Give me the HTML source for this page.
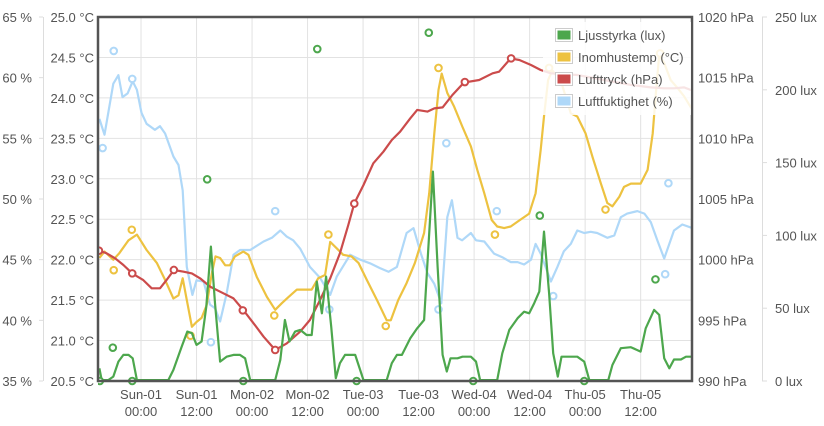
<!DOCTYPE html>
<html><head><meta charset="utf-8"><style>
html,body{margin:0;padding:0;background:#fff;width:824px;height:426px;overflow:hidden}
svg{display:block;font-family:"Liberation Sans",sans-serif}
</style></head><body>
<svg id="chart" width="824" height="426" xmlns="http://www.w3.org/2000/svg"></svg>
<script>
// ---- data (time in hours since Sun-01 00:00) ----
const xTickHours=[0,12,24,36,48,60,72,84,96,108];
const xTickDays=["Sun-01","Sun-01","Mon-02","Mon-02","Tue-03","Tue-03","Wed-04","Wed-04","Thu-05","Thu-05"];
const xTickTimes=["00:00","12:00","00:00","12:00","00:00","12:00","00:00","12:00","00:00","12:00"];
const humTicks=[35,40,45,50,55,60,65];
const tempTicks=[20.5,21.0,21.5,22.0,22.5,23.0,23.5,24.0,24.5,25.0];
const hpaTicks=[990,995,1000,1005,1010,1015,1020];
const luxTicks=[0,50,100,150,200,250];

const humT=[-9,-7.9,-6,-4.9,-4,-2.9,-1.8,-0.9,0.1,1.2,3,4.1,5.2,7,8.1,9,9.9,11.1,12,13.5,14.9,16,17.1,18.5,20,21.4,23.6,26.5,28.3,30.1,31.5,32.9,34.4,36.5,38.7,40.9,42.3,45.2,47.4,49.5,51.7,53.5,55.3,57.4,58.9,60.5,61.9,63.4,64.9,66.2,67.2,68.4,69.4,71.3,72.4,74.2,76.3,78.1,79.9,81.4,82.8,84.3,85.3,86.4,88.6,90,91.4,92.9,94.3,95.8,97.2,98.6,100.8,102.3,103.7,105.1,107.3,108.8,110.2,111.6,113.1,115.2,117,119.2];
const humV=[56.6,55.3,59.5,60.2,58.4,58.7,59.7,59.0,57.1,56.2,55.7,56.0,55.4,53.5,52.8,50.7,44.4,42.1,43.3,43.2,41.3,41.0,39.9,42.2,45.4,45.8,45.8,46.5,46.8,47.4,46.9,46.6,45.9,44.4,43.5,42.1,43.6,45.4,45.0,44.7,44.3,44.0,44.4,47.2,47.6,45.5,43.9,43.0,41.4,48.5,49.9,46.8,46.6,47.2,46.6,46.5,45.5,45.2,44.8,44.8,44.6,45.0,46.3,45.5,43.2,44.4,45.7,46.3,47.4,47.2,47.3,47.2,46.8,47.0,48.5,48.8,49.0,48.8,48.1,46.6,45.1,47.4,47.9,47.6];
const humMarkT=[-8.3,-5.9,-1.9,15.1,29.0,40.7,64.3,66.0,76.9,89.1,114.0,113.3];
const humMarkV=[54.2,62.2,59.9,38.2,49.0,40.9,40.9,54.6,49.0,42.0,51.3,43.8];

const tempT=[-9,-7.9,-6,-4.7,-2.7,-0.9,1.2,3.4,5.2,7,8.1,9,9.9,11,12,13.1,14.2,15.3,16.1,17.1,18.2,19.2,20.3,22.1,23.2,25,27.2,29,30.4,31.9,33.7,35.5,36.9,38.3,39.8,40.9,42.3,43.7,45.5,47,48.8,51,53.1,54,55.6,57.4,59.2,61.2,62.3,63.4,64.3,65,66.2,67.7,69.5,71.3,72.7,74.2,75.8,77,78.5,79.9,81.4,83.9,85.3,86.4,87.1,88,88.9,90.8,92.9,94.3,96.1,97.6,99.4,100.8,101.9,103.4,104.4,105.9,108,109.5,110.6,111.3,112,113.1,114.5,116,117.4,119.2];
const tempV=[22.02,22.10,22.00,22.08,22.24,22.31,22.12,21.96,21.75,21.52,21.56,21.77,21.50,21.17,21.23,21.28,21.44,21.83,22.04,22.02,21.93,21.93,22.04,22.10,22.06,21.79,21.54,21.38,21.46,21.54,21.63,21.63,21.63,21.77,21.81,22.22,22.14,22.06,22.04,21.96,21.75,21.50,21.25,21.25,21.50,21.71,21.96,22.33,22.82,23.56,24.10,24.30,24.06,23.89,23.64,23.40,23.11,22.82,22.49,22.41,22.39,22.41,22.47,22.57,22.82,23.36,23.77,24.22,24.34,24.20,23.81,23.77,23.56,23.27,22.94,22.70,22.66,22.78,22.90,22.94,22.94,23.11,23.56,24.06,24.53,24.43,24.22,24.12,24.02,23.85];
const tempMarkT=[-5.9,-2.0,10.7,28.8,40.5,52.9,64.3,76.5,88.2,100.4,112.2];
const tempMarkV=[21.87,22.37,21.06,21.31,22.31,21.18,24.37,22.31,24.37,22.62,24.55];

const hpaT=[-9,-7.4,-5.6,-3.8,-1.9,0.5,2.3,4.1,5.5,7.1,9.2,11,12.8,14.9,17.8,20,22.1,24.6,26.5,29,31.5,34.4,36.5,38.7,40.9,43,44.8,46.1,48.1,50.2,52.4,54.2,56,58.2,59.7,61.9,63.4,65.2,67.3,69.8,73.1,76,77.4,79.9,81.8,84.3,86.4,88.6,94.3,100.1,105.9,110.2,113.1,115.2,117.4,119.2];
const hpaV=[1000.74,1000.52,1000.11,999.56,998.87,998.32,997.64,997.64,998.32,999.15,999.01,998.87,998.46,997.78,997.23,996.81,995.85,994.62,993.65,992.56,993.10,994.07,995.03,996.68,998.46,1000.52,1002.86,1004.64,1006.15,1007.94,1008.90,1009.86,1010.55,1011.65,1012.34,1012.2,1012.47,1012.55,1013.57,1014.59,1014.81,1015.36,1015.49,1016.59,1016.46,1016.04,1015.63,1015.36,1015.22,1014.81,1014.40,1014.2,1014.12,1014.12,1014.2,1013.93];
const hpaMarkT=[-9.1,-1.9,7.1,22.0,29.0,46.1,70.0,80.0];
const hpaMarkV=[1000.74,998.87,999.15,995.82,992.56,1004.62,1014.64,1016.59];

const luxT=[-9,-8.5,-7.1,-6,-4.9,-3.8,-2.7,-1.8,-0.9,5.9,7,8.8,10,11,12,13.1,14.1,15.1,16,17.1,18.5,20,21.4,22.5,23.6,29,30.1,31.1,32.1,33.3,34.4,35.8,36.9,38,39.1,40,41.1,42.1,43,44.1,46.3,48.1,53.1,54.2,55.3,56.4,58.2,59.7,61.2,62.3,63.1,64.1,65.2,66.1,66.9,68.4,69.5,71.3,72.4,73.3,77,78.1,79.6,81.4,82.8,83.9,85,86.1,87.1,88.2,89.1,90.1,90.9,92.9,94.3,95.8,96.9,101,101.9,103.7,105.9,108,109.1,110.9,112,113.1,114.2,115.2,116.7,117.8,119.2];
const luxV=[8.7,0.6,0.6,3.0,13.3,17.9,17.9,15.6,0.6,0.6,7.6,23.6,33.9,32.8,24.8,27.1,51.1,92.3,53.4,13.3,16.7,17.9,17.9,15.6,0.6,0.6,14.4,41.9,27.1,33.9,35.1,31.6,31.6,68.3,46.5,71.7,37.4,1.9,12.2,17.9,17.9,0.6,0.6,12.2,17.9,17.9,29.3,36.2,41.9,101.4,143.8,78.6,17.9,6.5,15.6,15.6,16.7,16.7,13.3,0.6,0.6,19.0,35.1,43.1,47.6,46.5,53.4,61.4,102.6,60.2,19.0,3.0,16.7,16.7,16.7,13.3,0.6,0.6,11.0,22.5,23.2,20.2,36.2,48.8,45.4,15.6,8.7,14.8,14.8,16.7,16.7];
const luxMarkT=[-8.9,-6.1,-1.9,14.3,22.1,38.1,46.6,62.2,71.8,86.2,95.8,111.2];
const luxMarkV=[0,22.9,0,138.5,0,228.0,0,239.2,0,113.6,0,69.8];

// ---- axes ----
const L=98,R=692,T=17,B=381;
const tMin=-9.3,tMax=119.1;
const X=t=>L+(t-tMin)/(tMax-tMin)*(R-L);
const yHum=v=>B-(v-35)/30*(B-T);
const yTemp=v=>B-(v-20.5)/4.5*(B-T);
const yHpa=v=>B-(v-990)/30*(B-T);
const yLux=v=>B-v/250*(B-T);

const NS="http://www.w3.org/2000/svg";
const svg=document.getElementById('chart');
function mk(tag,attrs,parent){const e=document.createElementNS(NS,tag);for(const k in attrs)e.setAttribute(k,attrs[k]);(parent||svg).appendChild(e);return e;}
const lab={fill:"#545454","font-size":"13"};

// grid
const grid=mk('g',{});


tempTicks.forEach(v=>{mk('line',{x1:L,x2:R,y1:yTemp(v),y2:yTemp(v),stroke:"#e2e2e2","stroke-width":1},grid);});
xTickHours.forEach(h=>{mk('line',{x1:X(h),x2:X(h),y1:T,y2:B,stroke:"#e2e2e2","stroke-width":1},grid);});

// axis lines for outer axes
mk('line',{x1:43.5,x2:43.5,y1:T,y2:B,stroke:"#ddd"});
mk('line',{x1:762.5,x2:762.5,y1:T,y2:B,stroke:"#ddd"});

// left % axis
humTicks.forEach(v=>{
  const t=mk('text',Object.assign({x:32,y:yHum(v)+5,"text-anchor":"end"},lab));t.textContent=v+" %";
  
  
  mk('line',{x1:39,x2:43,y1:yHum(v),y2:yHum(v),stroke:"#ddd"});
});
tempTicks.forEach(v=>{
  const t=mk('text',Object.assign({x:94,y:yTemp(v)+5,"text-anchor":"end"},lab));t.textContent=v.toFixed(1)+" °C";
  
  
});
hpaTicks.forEach(v=>{
  const t=mk('text',Object.assign({x:698,y:yHpa(v)+5},lab));t.textContent=v+" hPa";
  
  
});
luxTicks.forEach(v=>{
  const t=mk('text',Object.assign({x:775,y:yLux(v)+5},lab));t.textContent=v+" lux";
  
  
  mk('line',{x1:762,x2:767,y1:yLux(v),y2:yLux(v),stroke:"#ddd"});
});
xTickHours.forEach((h,i)=>{
  const t=mk('text',Object.assign({x:X(h),y:399,"text-anchor":"middle"},lab));t.textContent=xTickDays[i];
  
  
  const t2=mk('text',Object.assign({x:X(h),y:416,"text-anchor":"middle"},lab));t2.textContent=xTickTimes[i];
  
  
});

// series
const clip=mk('clipPath',{id:'pc'});mk('rect',{x:L,y:T,width:R-L,height:B-T+6},clip);
function series(name,ts,vs,mt,mv,yf,color){
  const g=mk('g',{"clip-path":"url(#pc)"});
  
  
  const pts=ts.map((t,i)=>X(t).toFixed(1)+","+yf(vs[i]).toFixed(1)).join(" ");
  const pl=mk('polyline',{points:pts,fill:"none",stroke:color,"stroke-width":2.2,"stroke-linejoin":"round"},g);
  
  
  mt.forEach((t,i)=>{
    const c=mk('circle',{cx:X(t),cy:yf(mv[i]),r:3.3,fill:"#fff",stroke:color,"stroke-width":2},g);
    
    
  });
}
series('humidity-series',humT,humV,humMarkT,humMarkV,yHum,"#afd8f8");
series('temperature-series',tempT,tempV,tempMarkT,tempMarkV,yTemp,"#edc240");
series('pressure-series',hpaT,hpaV,hpaMarkT,hpaMarkV,yHpa,"#cb4b4b");
series('lux-series',luxT,luxV,luxMarkT,luxMarkV,yLux,"#4da74d");

// border
mk('rect',{x:L,y:T,width:R-L,height:B-T,fill:"none",stroke:"#545454","stroke-width":2.5});

// legend
const lg=mk('g',{});


mk('rect',{x:543,y:22,width:148,height:93,fill:"#fff","fill-opacity":0.85},lg);
const legNames=["Ljusstyrka (lux)","Inomhustemp (°C)","Lufttryck (hPa)","Luftfuktighet (%)"];
const legColors=["#4da74d","#edc240","#cb4b4b","#afd8f8"];
legNames.forEach((n,i)=>{
  const y=35+i*22;
  const e=mk('g',{},lg);
  
  
  mk('rect',{x:555.5,y:y-6.5,width:17,height:13,fill:"#fff",stroke:"#ccc"},e);
  mk('rect',{x:557.5,y:y-4.5,width:13,height:9,fill:legColors[i]},e);
  const t=mk('text',Object.assign({x:578,y:y+5},lab),e);t.textContent=n;
});
</script>
</body></html>
